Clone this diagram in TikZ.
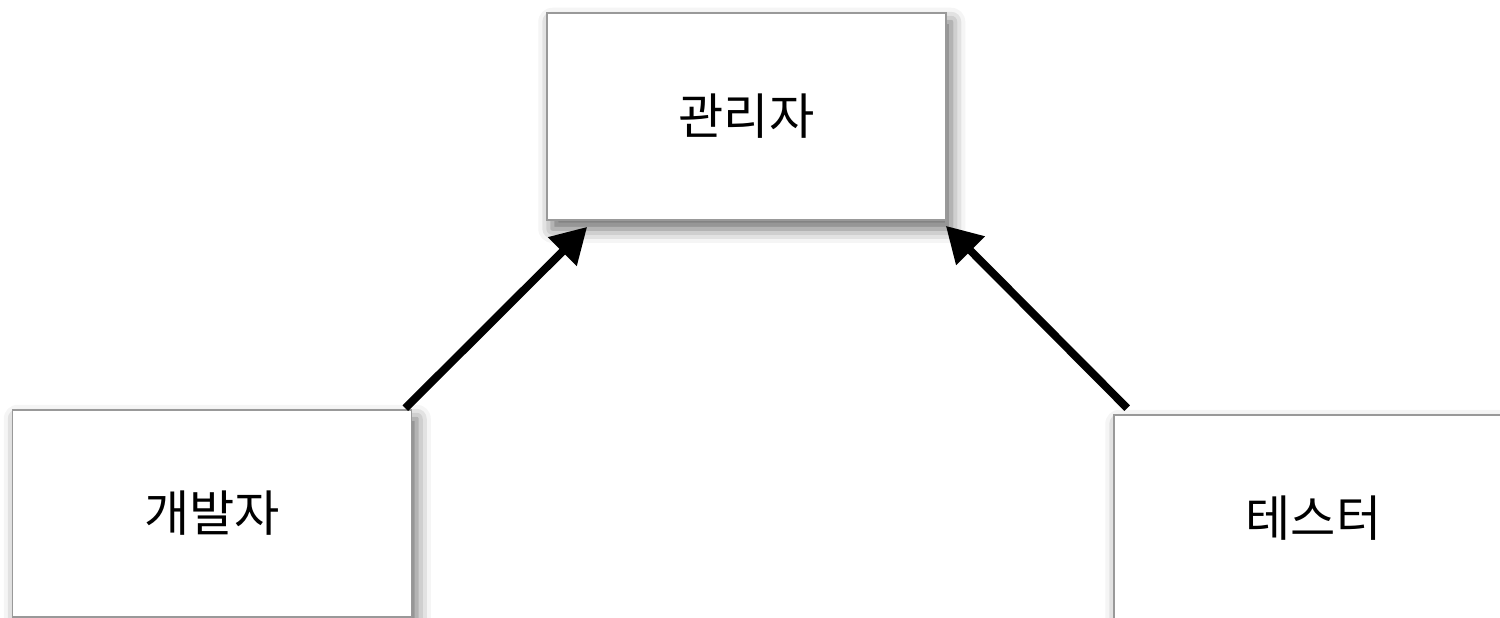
\documentclass[tikz,border=0pt]{standalone}
\usepackage{fontspec}
\newfontfamily\krfont{Noto Sans CJK KR}
\usetikzlibrary{arrows.meta,shadows.blur}

\begin{document}
\begin{tikzpicture}[x=0.02cm,y=0.02cm,
  rolebox/.style={draw=black!40,line width=1pt,fill=white,minimum width=7.98cm,minimum height=4.14cm,
    inner sep=0pt,font=\krfont\fontsize{28}{32}\selectfont,
    blur shadow={shadow xshift=3pt,shadow yshift=-5pt,shadow blur radius=8pt,shadow opacity=60}},
  link/.style={line width=4.5pt,-{Triangle[length=20pt,width=22pt]}}]
\useasboundingbox (0,0) rectangle (1500,-618);
\node[rolebox] (mgr) at (746.5,-116.5) {관리자};
\node[rolebox] (dev) at (212,-513.5) {개발자};
\node[rolebox] (tst) at (1313.5,-518.5) {테스터};
\draw[link] ([shift={(-7,1)}]dev.north east) -- ([shift={(41,-6)}]mgr.south west);
\draw[link] ([shift={(14,6)}]tst.north west) -- ([shift={(-1,-5)}]mgr.south east);
\end{tikzpicture}
\end{document}
